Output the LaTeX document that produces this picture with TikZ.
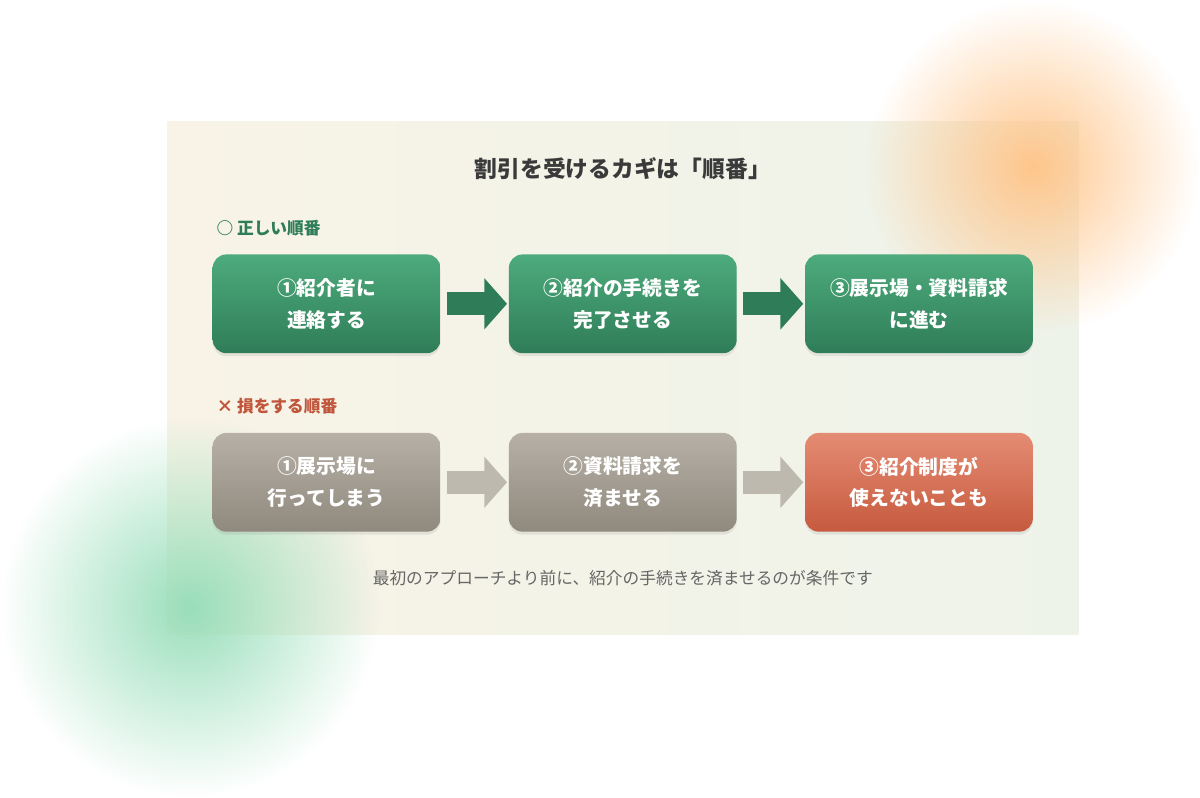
\documentclass[tikz,border=0pt]{standalone}
\usepackage{fontspec}
\setmainfont{Noto Sans CJK JP}
\usetikzlibrary{arrows.meta,positioning,shadows,fadings}
\tikzfading[name=glow,inner color=transparent!0,outer color=transparent!100]
\definecolor{bgA}{HTML}{F8F3E6}
\definecolor{bgB}{HTML}{EEF3EA}
\definecolor{gtop}{HTML}{4DAB7C}
\definecolor{gbot}{HTML}{2F7D58}
\definecolor{greytop}{HTML}{B6B0A6}
\definecolor{greybot}{HTML}{8F897E}
\definecolor{redtop}{HTML}{E58C74}
\definecolor{redbot}{HTML}{C65A3E}
\definecolor{garr}{HTML}{2F7D58}
\definecolor{parr}{HTML}{BDB9AE}
\definecolor{ttl}{HTML}{3A3A3A}
\definecolor{okc}{HTML}{2F7D58}
\definecolor{ngc}{HTML}{C0553B}
\definecolor{note}{HTML}{666666}
\tikzset{
  stagebox/.style={minimum width=150pt,minimum height=65pt,rounded corners=9pt,
    text=white,font=\bfseries\fontsize{13}{21}\selectfont,align=center,
    drop shadow={opacity=.15,shadow xshift=0pt,shadow yshift=-2pt}},
  okstep/.style={stagebox,top color=gtop,bottom color=gbot},
  ngstep/.style={stagebox,top color=greytop,bottom color=greybot},
  badstep/.style={stagebox,top color=redtop,bottom color=redbot},
  fatarrow/.style={line width=15pt,-{Triangle[width=33pt,length=15pt]},
    shorten <=4pt,shorten >=1pt},
}
\begin{document}
\begin{tikzpicture}[x=0.5pt,y=-0.5pt]
%% background
\shade[left color=bgA,right color=bgB] (0,0) rectangle (1200,675);
\fill[orange!45,path fading=glow] (1140,60) circle (220);
\fill[green!35!teal!40,path fading=glow] (30,640) circle (250);
\useasboundingbox (0,0) rectangle (1200,675);
%% title and labels
\node[font=\bfseries\fontsize{15}{18}\selectfont,text=ttl] (title) at (600,62) {割引を受けるカギは「順番」};
\node[anchor=west,font=\bfseries\fontsize{11}{14}\selectfont,text=okc] (oklabel) at (58,140) {○ 正しい順番};
\node[anchor=west,font=\bfseries\fontsize{11}{14}\selectfont,text=ngc] (nglabel) at (58,375) {× 損をする順番};
%% correct order
\node[okstep] (ok1) at (210,240) {①紹介者に\\連絡する};
\node[okstep] (ok2) at (600,240) {②紹介の手続きを\\完了させる};
\node[okstep] (ok3) at (990,240) {③展示場・資料請求\\に進む};
\draw[fatarrow,garr] (ok1) -- (ok2);
\draw[fatarrow,garr] (ok2) -- (ok3);
%% wrong order
\node[ngstep] (ng1) at (210,475) {①展示場に\\行ってしまう};
\node[ngstep] (ng2) at (600,475) {②資料請求を\\済ませる};
\node[badstep] (ng3) at (990,475) {③紹介制度が\\使えないことも};
\draw[fatarrow,parr] (ng1) -- (ng2);
\draw[fatarrow,parr] (ng2) -- (ng3);
%% note
\node[font=\fontsize{11}{14}\selectfont,text=note] (footnote) at (600,601) {最初のアプローチより前に、紹介の手続きを済ませるのが条件です};
\end{tikzpicture}
\end{document}
